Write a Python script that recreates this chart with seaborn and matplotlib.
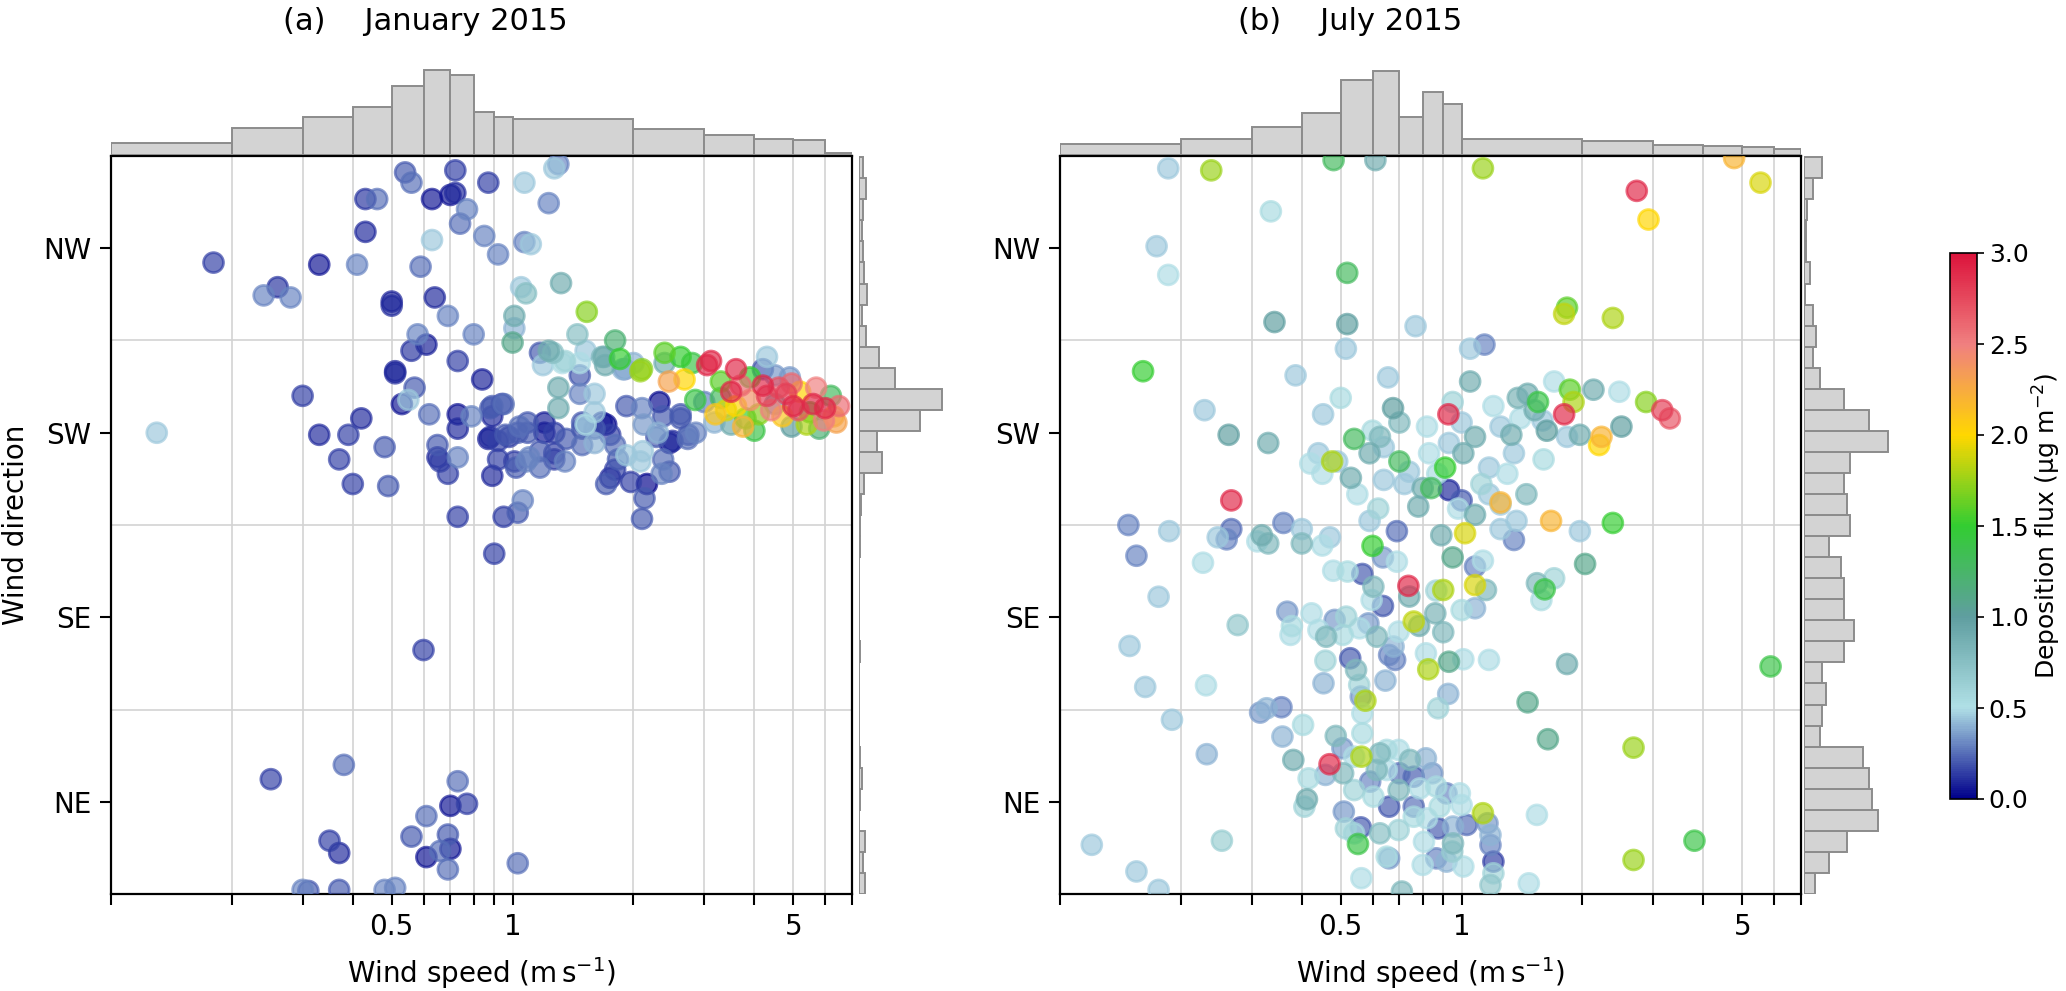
import numpy as np
import matplotlib
matplotlib.use("Agg")
import matplotlib.pyplot as plt
import seaborn as sns
from matplotlib.colors import LinearSegmentedColormap, Normalize
from matplotlib.cm import ScalarMappable
from matplotlib.ticker import NullLocator

# ---------------- data ----------------
# Panel (a) January 2015: wind speed (m/s), wind direction (deg), deposition flux (ug m-2)
speed_a = [0.60,0.38,0.25,0.73,0.77,0.70,0.61,0.56,0.35,0.37,0.69,0.70,0.66,0.61,0.69,1.03,0.30,0.31,0.37,0.48,0.51,
           0.18,0.24,0.26,0.28,0.33,0.41,0.30,0.43,0.46,0.43,0.54,0.56,0.63,0.72,0.70,0.72,0.87,0.77,0.74,0.63,0.85,0.92,0.59,0.50,0.50,0.64,0.69,0.58,0.56,0.61,0.80,0.73,0.51,0.84,0.57,
           1.07,1.27,1.30,1.23,1.07,1.11,1.05,1.08,1.32,1.53,1.01,1.01,1.00,1.45,1.80,2.39,2.62,2.10,1.17,1.26,1.35,1.47,1.67,1.70,1.47,1.60,1.30,2.00,1.90,2.68,1.85,2.80,3.12,2.08,2.39,1.52,1.69,1.23,1.19,1.88,
           0.51,0.53,0.55,0.62,0.73,0.73,0.79,0.89,0.95,0.89,0.87,0.92,0.48,0.65,0.65,0.66,0.69,0.73,0.92,0.89,0.49,0.73,0.95,1.03,0.90,
           0.98,1.03,1.09,1.20,1.27,1.36,1.49,1.49,1.60,1.71,1.75,1.80,1.83,1.80,1.75,1.71,1.97,1.02,1.08,1.17,1.17,1.27,1.35,1.06,2.10,2.08,2.16,2.28,2.35,2.46,2.46,2.62,2.73,2.86,3.18,1.92,2.10,2.32,2.37,2.12,1.47,1.30,1.60,1.52,1.60,1.33,3.00,2.45,3.05,
           2.85,2.62,2.50,2.74,2.30,2.11,2.37,2.13,0.88,0.94,0.88,0.96,1.04,1.09,1.20,1.49,1.67,1.10,1.27,1.01,1.92,
           4.3,4.2,4.5,4.9,4.95,5.7,6.2,5.6,5.96,6.3,4.7,4.95,5.4,4.3,4.5,4.1,5.15,4.8,3.3,3.5,3.6,3.4,3.7,3.9,3.8,3.5,3.3,3.9,3.6,3.2,4.0,3.75,4.2,4.6,5.2,5.0,4.4,5.5,6.0,6.5,6.4,5.8,
           0.13,0.39,0.37,0.40,0.33,0.42]
dir_a = [119,63,56,55,44,43,38,28,26,20,29,22,21,18,12,15,2,1.5,2,2,3,
         308,292,296,291,307,307,243,339,339,323,352,347,339,353,341,342,347,334,327,319,321,312,306,289,287,291,282,273,265,268,273,260,255,251,247,
         347,354,356,337,318,317,296,293,298,284,282,276,269,273,270,264,262,256,264,264,260,259,262,258,253,244,247,259,256,251,261,259,260,255,259,265,262,265,258,256,
         254,239,241,234,234,227,233,238,239,233,222,221,218,219,213,211,205,213,212,204,199,184,184,186,166,
         223,225,225,225,225,222,227,219,227,229,224,219,212,207,203,200,201,208,211,216,208,212,211,192,183,211,200,223,205,206,220,232,222,225,230,238,237,240,233,229,244,237,235,229,220,259,240,250,258,
         241,234,221,224,225,216,212,193,237,239,223,224,228,230,230,230,230,213,215,211,214,
         262,256,253,252,249,247,243,239,231,233,233,228,229,243,239,234,236,244,250,245,238,236,248,241,232,229,242,252,256,234,226,228,248,247,245,238,236,235,237,238,230,227,
         225,224,212,200,224,232]
flux_a = [0.15,0.25,0.15,0.25,0.15,0.05,0.25,0.2,0.15,0.1,0.2,0.05,0.25,0.05,0.25,0.25,0.3,0.2,0.2,0.3,0.3,
          0.15,0.3,0.12,0.3,0.05,0.3,0.15,0.12,0.25,0.1,0.2,0.25,0.05,0.15,0.05,0.1,0.15,0.3,0.25,0.45,0.3,0.3,0.25,0.08,0.1,0.1,0.3,0.3,0.12,0.08,0.3,0.15,0.08,0.08,0.2,
          0.45,0.45,0.3,0.3,0.3,0.45,0.45,0.75,0.9,1.7,0.9,0.4,1.1,0.75,1.2,1.6,1.5,1.7,0.2,0.75,0.6,0.5,0.8,0.9,0.2,0.45,0.9,0.4,0.3,2.0,1.5,1.4,2.9,1.75,0.9,0.45,0.9,0.9,0.45,0.4,
          0.1,0.05,0.45,0.25,0.05,0.1,0.3,0.2,0.25,0.1,0.08,0.15,0.2,0.2,0.1,0.15,0.15,0.3,0.15,0.1,0.2,0.15,0.15,0.2,0.15,
          0.15,0.2,0.2,0.05,0.15,0.2,0.2,0.25,0.2,0.03,0.15,0.25,0.2,0.15,0.1,0.2,0.15,0.2,0.3,0.2,0.25,0.15,0.3,0.3,0.2,0.45,0.02,0.2,0.3,0.2,0.05,0.2,0.25,0.3,0.4,0.2,0.3,0.03,0.2,0.35,0.3,0.9,0.45,0.5,0.4,0.5,0.3,2.3,2.9,
          1.4,0.2,0.1,0.2,0.4,0.45,0.25,0.2,0.2,0.15,0.1,0.2,0.25,0.2,0.08,0.2,0.05,0.3,0.15,0.15,0.45,
          0.45,0.2,0.35,0.35,2.6,2.5,1.3,2.9,2.5,2.2,2.1,1.0,1.8,2.8,1.0,1.7,2.7,2.8,1.6,2.9,2.0,1.9,2.6,2.4,1.5,0.9,1.3,1.5,2.9,2.1,1.4,2.2,2.9,2.7,2.0,2.9,2.5,1.5,2.9,2.6,2.3,1.2,
          0.45,0.15,0.15,0.15,0.1,0.1]

# Panel (b) July 2015
speed_b = [0.186,0.238,0.48,0.61,0.335,0.174,0.186,0.342,0.519,0.519,0.768,0.515,1.14,1.13,2.73,2.92,4.77,5.55,1.83,1.80,2.38,1.05,
           0.161,0.263,0.229,0.656,0.675,0.452,0.386,0.33,0.626,0.927,1.80,3.3,3.16,1.86,1.9,1.46,1.55,1.52,2.13,2.47,2.88,2.5,2.2,2.23,1.97,1.83,1.63,1.59,1.4,1.33,1.25,1.08,1.0,0.93,0.83,0.74,0.64,0.59,0.54,0.49,0.44,0.45,0.53,0.64,0.7,0.8,0.91,1.01,1.17,1.35,0.476,0.84,0.78,0.93,1.0,1.08,1.17,1.25,1.67,2.38,1.02,0.267,
           0.55,0.62,0.72,0.87,1.12,1.3,1.45,0.98,0.6,0.7,0.82,0.95,1.2,1.38,1.7,0.5,0.42,1.05,1.6,1.25,
           0.148,0.187,0.247,0.267,0.318,0.36,0.4,0.47,0.59,0.69,0.89,1.25,1.37,1.97,0.176,0.149,5.88,0.163,0.19,0.12,0.155,0.176,3.8,0.155,
           0.31,0.33,0.40,0.45,0.26,
           0.227,0.277,0.231,0.368,0.378,0.375,0.423,0.44,0.46,0.483,
           0.516,0.506,0.557,0.586,0.615,0.479,0.52,0.566,0.603,0.597,
           0.637,0.637,0.69,0.6,0.737,0.741,0.76,0.784,0.697,0.677,
           0.66,0.683,0.528,0.546,0.556,0.561,0.576,0.566,0.458,0.453,
           0.646,0.815,0.826,0.93,1.01,1.17,0.926,0.874,0.86,0.9,
           0.865,0.9,1.0,1.08,1.08,1.15,1.08,1.13,0.95,1.54,
           1.61,1.7,1.58,2.03,1.83,1.46,0.315,0.327,0.356,0.403,
           0.358,0.232,0.381,0.469,0.458,0.486,0.505,0.507,0.416,0.412,
           0.406,0.566,0.563,0.54,0.626,0.651,0.697,0.744,0.815,0.845,
           0.76,0.7,0.651,0.615,0.592,0.54,0.603,0.66,0.697,0.76,
           0.787,0.865,0.917,0.99,0.882,1.0,0.76,0.82,0.874,0.952,
           1.03,1.13,1.16,1.18,1.18,1.2,1.2,1.18,0.952,0.948,
           0.865,0.917,1.01,0.806,0.8,0.697,0.626,0.66,0.651,0.563,
           0.71,0.561,0.552,0.509,0.515,0.54,0.253,1.54,1.47,1.64,
           2.68,2.68,1.35]
dir_b = [354,353,358,358,333,316,302,279,303,278,277,266,268,354,343,329,359,347,286,283,281,266,
         255,224,236,252,237,234,253,220,223,234,234,232,236,246,240,244,240,236,246,245,240,228,219,223,224,223,226,231,232,224,228,223,230,220,215,206,218,215,222,211,215,205,203,202,211,198,208,215,208,215,211,198,189,197,192,185,195,191,182,181,176,192,
         195,188,200,205,200,205,195,188,226,230,228,240,238,242,250,242,210,250,212,190,
         180,177,174,178,175,181,178,174,182,177,175,178,182,177,145,121,111,101,85,24,11,2,26,165,
         172,171,171,170,173,
         161.6,131.2,101.8,137.7,130.7,126.4,136.9,128.8,125.5,133.7,
         135.3,126.4,129.6,132,125.5,157.7,157.3,156.1,149.9,143.4,
         140.5,164.2,162.1,169.8,150.3,145.1,132.9,130.8,128,120.7,
         116.6,114.2,115,109.3,102,96.3,94.3,88.1,113.8,102.8,
         104.1,117.4,109.6,113.3,114.5,114.2,97.6,90.6,136.9,127.7,
         148,148.3,138.5,139.4,150.7,148.3,159.7,162.6,164.2,151.6,
         148.6,154,143.4,161,112.2,93.5,88.5,90.6,91.1,82.5,
         76.8,68.2,65.4,63.3,58.1,77.1,71.1,58.9,56.4,46.2,
         42.6,78.4,67,67,68.6,70.3,70.3,65.4,66.2,58.9,
         57.2,58.9,60.5,60.5,54.8,50.7,47.5,42.6,50.7,42.6,
         51.5,52.4,49.1,49.1,42.6,43.4,37.7,36.9,32,32.9,
         33.7,39.4,34.5,28.8,23.9,15.8,10.1,4.4,24.7,20.7,
         17.4,15.8,13.4,25.5,14.2,31.2,29.6,17.4,18.2,7.7,
         1.2,32.5,24.4,40.2,32,29.6,26,38.6,5.2,75.5,
         71.4,16.6,172.7]
flux_b = [0.45,1.75,1.3,0.9,0.55,0.45,0.5,1.0,1.3,1.0,0.45,0.45,0.3,1.75,2.9,2.0,2.2,1.9,1.6,1.85,1.8,0.45,
          1.5,1.0,0.45,0.45,1.0,0.45,0.45,0.9,0.8,2.9,2.9,2.7,2.8,1.6,1.8,0.9,1.4,0.9,0.9,0.5,1.7,1.0,2.0,2.2,0.9,0.45,1.0,0.45,0.5,0.9,0.45,0.9,0.45,0.45,0.5,0.45,0.45,0.9,1.3,0.45,0.45,0.5,0.9,0.45,1.3,0.9,1.5,0.9,0.45,0.45,1.8,1.3,0.9,0.1,0.2,0.9,0.45,2.2,2.2,1.5,1.9,2.9,
          0.5,0.6,0.45,0.55,0.6,0.5,0.8,0.5,0.55,0.8,0.5,0.6,0.5,0.85,0.5,0.55,0.5,0.9,0.55,0.45,
          0.3,0.45,0.45,0.25,0.9,0.3,0.45,0.45,0.45,0.25,0.9,0.45,0.45,0.45,0.45,0.45,1.4,0.45,0.45,0.45,0.45,0.45,1.4,0.3,
          0.5,0.8,0.8,0.5,0.3,
          0.5,0.7,0.5,0.35,0.55,0.5,0.5,0.5,0.8,0.35,
          0.6,0.55,0.5,0.35,0.8,0.5,0.55,0.2,0.8,0.5,
          0.2,0.35,0.5,1.5,2.9,0.9,1.85,0.9,0.5,0.4,
          0.3,0.3,0.2,0.8,0.6,0.35,1.8,0.5,0.6,0.4,
          0.4,0.5,1.8,1.1,0.5,0.5,0.4,0.6,0.85,0.8,
          0.6,1.8,0.55,0.4,1.9,0.8,0.3,0.5,1.1,0.8,
          1.4,0.6,0.55,1.1,0.9,1.1,0.35,0.4,0.3,0.55,
          0.4,0.4,0.9,2.9,0.4,0.8,0.35,0.8,0.55,0.9,
          0.6,0.55,1.8,0.5,0.8,0.55,0.5,0.8,0.4,0.35,
          0.2,0.25,0.5,0.8,0.3,0.6,0.55,0.2,0.8,0.25,
          0.5,0.55,0.3,0.5,0.55,0.5,0.55,0.5,0.2,0.4,
          0.25,1.8,0.35,0.4,0.3,0.15,0.6,0.7,0.8,0.65,
          0.3,0.4,0.5,0.5,0.5,0.6,0.75,0.35,0.55,0.5,
          0.8,0.2,1.4,0.35,0.6,0.55,0.65,0.5,0.5,1.1,
          1.75,1.75,0.3]

# Marginal histograms
speed_bin_edges = [0.1,0.2,0.3,0.4,0.5,0.6,0.7,0.8,0.9,1,2,3,4,5,6,7]
speed_hist_a = [11.7,27.3,37.7,48.3,69,85,79.7,42.7,37.7,36,26,19.7,16,15,2]
speed_hist_b = [11,16,28.3,42.3,75,83.7,38.3,63,51,16.3,14,10,9,8,6]
dir_bin_edges = list(np.linspace(0, 359.4, 36))
dir_hist_a = [6,4,5.7,0,1.3,3.3,1,0,0,0,0,1,0,0,0,0,1.3,1.3,1.7,5,23.3,18,60.7,83.3,35.7,20,7.3,3.3,8.3,5,4,3,4,6.7,4]
dir_hist_b = [11,24.7,43.3,74,68,64.7,58.7,15.7,18.3,21.7,18.3,40,49.7,40,40,36.7,24.7,46.3,43,40.3,46.3,83.7,64.7,40.3,15.7,9,12.3,9,0.7,6.3,2.3,2.3,3,9,18.3]

speed_ticks = [0.1,0.2,0.3,0.4,0.5,0.6,0.7,0.8,0.9,1,2,3,4,5,6,7]
speed_ticklabels = {0.5: "0.5", 1: "1", 5: "5"}
dir_ticks = [45, 135, 225, 315]
dir_ticklabels = ["NE", "SE", "SW", "NW"]
dir_grid = [90, 180, 270]
flux_ticks = [0.0, 0.5, 1.0, 1.5, 2.0, 2.5, 3.0]
titles = ["(a)    January 2015", "(b)    July 2015"]

# ---------------- style ----------------
plt.rcParams["font.family"] = ["DejaVu Sans"]
cmap = LinearSegmentedColormap.from_list(
    "flux", ["#00008b", "#b0e0e6", "#5f9ea0", "#32cd32", "#ffd700", "#f08080", "#dc143c"])
norm = Normalize(0, 3)

W, H = 2066, 991
fig = plt.figure(figsize=(W / 100, H / 100), dpi=100)


def px_axes(x0, y0, x1, y1):
    return fig.add_axes([x0 / W, 1 - y1 / H, (x1 - x0) / W, (y1 - y0) / H])


HIST_FACE = "#d3d3d3"
HIST_EDGE = "#8c8c8c"
GRID = "#d3d3d3"


def panel(x0, x1, speed, direc, flux, sh, dh, title, title_x, ylabel, gap):
    ax = px_axes(x0, 156, x1, 894)
    order = np.argsort(flux, kind="stable")
    sp = np.asarray(speed, dtype=float)[order]
    di = np.asarray(direc, dtype=float)[order]
    fl = np.asarray(flux, dtype=float)[order]
    ax.set_xscale("log")
    sns.scatterplot(x=sp, y=di, hue=fl, palette=cmap, hue_norm=norm, s=205,
                    alpha=0.68, edgecolor="face", linewidth=2.0, legend=False, ax=ax, zorder=3)
    ax.set_xlim(0.1, 7)
    ax.set_ylim(0, 360)
    ax.set_xticks(speed_ticks)
    ax.set_xticklabels([speed_ticklabels.get(t, "") for t in speed_ticks])
    ax.xaxis.set_minor_locator(NullLocator())
    ax.set_yticks(dir_ticks)
    ax.set_yticklabels(dir_ticklabels)
    ax.set_yticks(dir_grid, minor=True)
    ax.tick_params(axis="y", which="minor", length=0)
    ax.tick_params(axis="both", which="major", labelsize=20, length=8, width=1.5,
                   direction="out", color="black", pad=6)
    ax.grid(False)
    ax.grid(axis="x", which="major", color=GRID, lw=1.2, zorder=0)
    ax.grid(axis="y", which="minor", color=GRID, lw=1.2, zorder=0)
    ax.set_axisbelow(True)
    for s in ax.spines.values():
        s.set_color("black")
        s.set_linewidth(1.6)
    ax.set_xlabel("Wind speed (m$\\,$s$^{-1}$)", fontsize=20)
    ax.xaxis.set_label_coords(0.5, (894 - 973) / 738)
    ax.xaxis.label.set_va("center")
    if ylabel:
        ax.set_ylabel("Wind direction", fontsize=20)
        ax.yaxis.set_label_coords((16 - x0) / (x1 - x0), 0.5)
        ax.yaxis.label.set_va("center")
    else:
        ax.set_ylabel("")

    # top marginal histogram
    axt = px_axes(x0, 65, x1, 155)
    axt.set_xscale("log")
    e = np.asarray(speed_bin_edges, dtype=float)
    axt.bar(e[:-1], sh, width=np.diff(e), align="edge", color=HIST_FACE,
            edgecolor=HIST_EDGE, linewidth=1.4)
    axt.set_xlim(0.1, 7)
    axt.set_ylim(0, 90)
    axt.axis("off")

    # right marginal histogram
    axr = px_axes(x1 + gap, 156, x1 + gap + 90, 894)
    de = np.asarray(dir_bin_edges, dtype=float)
    axr.barh(de[:-1], dh, height=np.diff(de), align="edge", color=HIST_FACE,
             edgecolor=HIST_EDGE, linewidth=1.4)
    axr.set_ylim(0, 360)
    axr.set_xlim(0, 90)
    axr.axis("off")

    fig.text(title_x / W, 1 - 22 / H, title, ha="center", va="center", fontsize=22)
    return ax


panel(111, 852, speed_a, dir_a, flux_a, speed_hist_a, dir_hist_a, titles[0], 425, True, 7)
panel(1060, 1801, speed_b, dir_b, flux_b, speed_hist_b, dir_hist_b, titles[1], 1350, False, 3)

# colorbar
cax = px_axes(1950, 253, 1977, 799)
cb = fig.colorbar(ScalarMappable(norm=norm, cmap=cmap), cax=cax, ticks=flux_ticks)
cb.ax.set_yticklabels([f"{t:.1f}" for t in flux_ticks])
cb.ax.tick_params(labelsize=18, length=5, width=1.2)
cb.outline.set_linewidth(1.2)
cb.set_label("Deposition flux (μg m$^{-2}$)", fontsize=18)
cb.ax.yaxis.set_label_coords((2047 - 1950) / 27, 0.5)
cb.ax.yaxis.label.set_va("center")

fig.savefig("out.png", dpi=100)
